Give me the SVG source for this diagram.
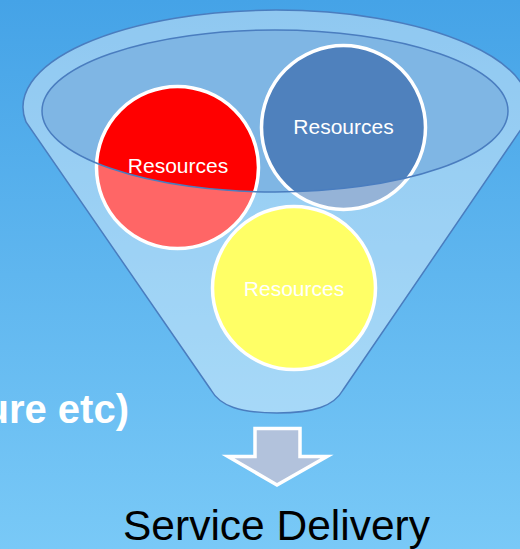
<svg xmlns="http://www.w3.org/2000/svg" width="520" height="549" viewBox="0 0 520 549">
  <defs>
    <linearGradient id="bg" x1="0" y1="0" x2="0" y2="1">
      <stop offset="0" stop-color="#45a3e7"/>
      <stop offset="1" stop-color="#79c9f7"/>
    </linearGradient>
  </defs>
  <style>
    .res { stroke: #ffffff; stroke-width: 3.5; }
    .lbl { font-family: "Liberation Sans", Arial, sans-serif; font-size: 21px; fill: #ffffff; text-anchor: middle; }
    .edge { stroke: #4a7dbf; stroke-width: 1.5; }
  </style>
  <rect x="0" y="0" width="520" height="549" fill="url(#bg)"/>

  <g id="funnel-back">
    <ellipse cx="275" cy="111" rx="233" ry="81" fill="#7fb6e4"/>
  </g>

  <g id="resource-red">
    <circle class="res" cx="177.5" cy="167.5" r="81" fill="#ff0000"/>
  </g>
  <g id="resource-blue">
    <circle class="res" cx="343.5" cy="127.5" r="82" fill="#4f81bd"/>
  </g>
  <g id="resource-yellow">
    <circle class="res" cx="294" cy="288" r="81.5" fill="#ffff00"/>
  </g>

  <g id="funnel-front">
    <path d="M 26,122 A 253 97 0 1 1 526,122 L 343,390 C 334,406 314,413 277,413 C 240,413 220,406 211,390 Z M 42,111 A 233 81 0 1 0 508,111 A 233 81 0 1 0 42,111 Z" fill="#ffffff" fill-opacity="0.4" fill-rule="evenodd"/>
    <path class="edge" d="M 26,122 A 253 97 0 1 1 526,122 L 343,390 C 334,406 314,413 277,413 C 240,413 220,406 211,390 Z" fill="none"/>
    <ellipse class="edge" cx="275" cy="111" rx="233" ry="81" fill="none"/>
  </g>

  <text class="lbl" x="178" y="173">Resources</text>
  <text class="lbl" x="343.5" y="134">Resources</text>
  <text class="lbl" x="294" y="296">Resources</text>

  <g id="connectors">
    <polygon points="255,428.5 300,428.5 300,456.5 327,456.5 277,485 228,456.5 255,456.5" fill="#b2c2dc" stroke="#ffffff" stroke-width="3.5"/>
  </g>

  <g id="caption-left">
    <text x="129" y="423" font-family="'Liberation Sans', Arial, sans-serif" font-size="40" font-weight="bold" fill="#ffffff" text-anchor="end">ure etc)</text>
  </g>
  <g id="service-delivery">
    <text x="276.5" y="540" font-family="'Liberation Sans', Arial, sans-serif" font-size="42" fill="#000000" text-anchor="middle" textLength="307" lengthAdjust="spacingAndGlyphs">Service Delivery</text>
  </g>
</svg>
